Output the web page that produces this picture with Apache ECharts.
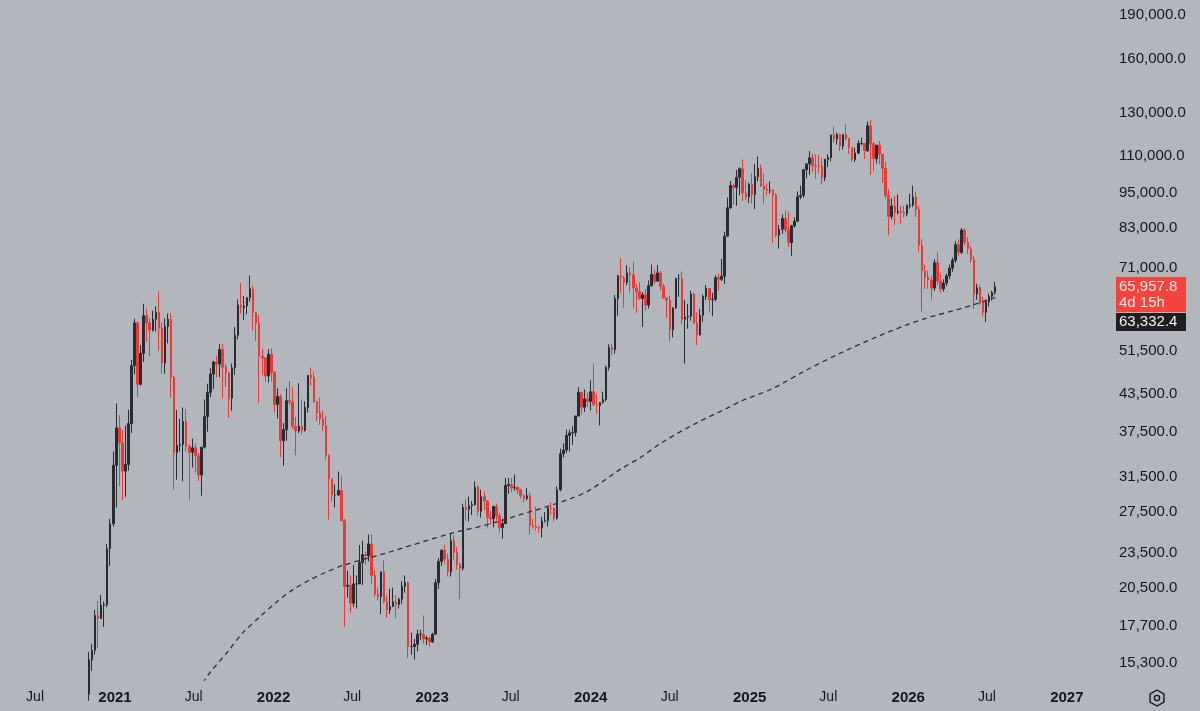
<!DOCTYPE html>
<html>
<head>
<meta charset="utf-8">
<script src="https://cdn.jsdelivr.net/npm/echarts@6/dist/echarts.min.js"></script>
<style>
  html, body { margin: 0; padding: 0; background: #b3b6bd; }
  #chart { width: 1200px; height: 711px; }
</style>
</head>
<body>
<div id="chart"></div>
<script>
// weekly candles, thousands of USD: [open, high, low, close], one row per week
const firstWeek = '2020-11-02'
const candles = [
  // 2020
  [13.55, 15.97, 13.2, 15.48], [15.48, 16.48, 14.83, 16.06], [16.06, 18.8, 15.8, 18.4], [18.4, 19.48, 16.2, 18.18],
  [18.18, 19.92, 18.15, 19.15], [19.15, 19.42, 17.6, 19.18], [19.18, 24.3, 19.0, 23.85], [23.85, 26.8, 22.3, 26.27],
  [26.27, 34.8, 26.0, 33.0],
  // 2021
  [33.0, 41.95, 28.0, 38.15], [38.15, 40.1, 30.4, 36.0], [36.0, 37.85, 28.8, 32.25], [32.25, 38.5, 29.2, 33.1],
  [33.1, 40.95, 32.3, 38.8], [38.8, 49.7, 37.4, 48.6], [48.6, 58.35, 47.0, 57.4], [57.4, 57.5, 43.0, 45.2],
  [45.2, 52.65, 45.0, 50.97], [50.97, 61.8, 49.3, 59.0], [59.0, 60.7, 53.3, 57.35], [57.35, 58.4, 50.4, 55.8],
  [55.8, 60.2, 55.5, 58.2], [58.2, 61.2, 55.5, 59.8], [59.8, 64.9, 51.5, 56.2], [56.2, 57.5, 47.0, 49.1],
  [49.1, 58.4, 47.1, 56.6], [56.6, 59.5, 53.0, 58.2], [58.2, 59.6, 42.9, 46.4], [46.4, 46.8, 30.0, 34.65],
  [34.65, 40.9, 31.2, 35.65], [35.65, 39.5, 34.8, 35.8], [35.8, 41.3, 31.0, 39.1], [39.1, 41.0, 34.8, 35.5],
  [35.5, 35.8, 28.8, 34.7], [34.7, 36.6, 32.7, 35.3], [35.3, 35.9, 32.1, 34.25], [34.25, 34.6, 31.0, 31.78],
  [31.78, 35.4, 29.3, 35.4], [35.4, 42.6, 35.2, 39.85], [39.85, 45.3, 37.6, 43.8], [43.8, 48.1, 43.0, 47.05],
  [47.05, 49.5, 44.4, 49.3], [49.3, 50.5, 46.4, 48.9], [48.9, 52.9, 46.5, 51.75], [51.75, 52.9, 42.8, 48.3],
  [48.3, 48.9, 44.7, 47.25], [47.25, 47.3, 39.6, 42.8], [42.8, 49.0, 40.8, 48.2], [48.2, 56.5, 46.9, 54.7],
  [54.7, 62.9, 53.8, 61.5], [61.5, 67.0, 59.5, 60.9], [60.9, 63.7, 58.0, 61.3], [61.3, 63.4, 59.4, 63.3],
  [63.3, 69.0, 62.3, 65.5], [65.5, 66.3, 55.7, 59.7], [59.7, 59.9, 53.5, 57.3], [57.3, 59.1, 42.0, 50.4],
  [50.4, 51.9, 46.8, 50.1], [50.1, 50.2, 45.6, 46.7], [46.7, 51.8, 45.5, 50.8], [50.8, 52.0, 45.7, 47.3],
  // 2022
  [47.3, 47.6, 40.6, 41.8], [41.8, 44.5, 39.6, 43.1], [43.1, 43.5, 34.0, 36.3], [36.3, 38.9, 32.9, 37.9],
  [37.9, 44.5, 36.3, 42.4], [42.4, 45.8, 41.7, 42.2], [42.2, 44.7, 38.0, 38.4], [38.4, 39.8, 34.3, 37.7],
  [37.7, 45.4, 37.4, 38.4], [38.4, 42.6, 37.2, 37.8], [37.8, 42.3, 37.6, 41.3], [41.3, 46.8, 40.5, 46.8],
  [46.8, 48.2, 44.9, 46.4], [46.4, 47.5, 42.1, 42.2], [42.2, 42.4, 39.2, 40.4], [40.4, 42.9, 38.6, 39.5],
  [39.5, 40.8, 37.7, 38.5], [38.5, 40.0, 33.7, 34.3], [34.3, 34.4, 26.7, 31.3], [31.3, 31.3, 28.7, 29.4],
  [29.4, 30.6, 28.0, 29.4], [29.4, 32.2, 29.3, 29.9], [29.9, 31.6, 26.6, 26.6], [26.6, 26.8, 17.6, 20.6],
  [20.6, 21.9, 19.7, 20.7], [20.7, 21.5, 18.6, 19.3], [19.3, 22.4, 19.0, 20.8], [20.8, 21.5, 18.9, 20.8],
  [20.8, 24.2, 20.8, 22.6], [22.6, 24.6, 20.7, 23.3], [23.3, 23.6, 22.4, 23.2], [23.2, 25.2, 22.7, 24.3],
  [24.3, 25.2, 20.8, 21.5], [21.5, 21.9, 19.8, 20.0], [20.0, 20.5, 19.5, 19.8], [19.8, 21.8, 18.5, 21.8],
  [21.8, 22.8, 19.3, 19.4], [19.4, 19.9, 18.2, 18.8], [18.8, 20.4, 18.5, 19.05], [19.05, 20.5, 19.0, 19.4],
  [19.4, 19.9, 18.2, 19.2], [19.2, 19.7, 18.9, 19.6], [19.6, 21.0, 19.25, 20.6], [20.6, 21.5, 20.1, 20.9],
  [20.9, 21.0, 15.6, 16.3], [16.3, 17.2, 15.8, 16.3], [16.3, 16.8, 15.5, 16.45], [16.45, 17.4, 16.0, 17.1],
  [17.1, 17.4, 16.7, 17.1], [17.1, 18.4, 16.5, 16.8], [16.8, 17.0, 16.4, 16.85], [16.85, 16.95, 16.3, 16.6],
  // 2023
  [16.6, 17.2, 16.55, 17.1], [17.1, 21.2, 17.1, 20.9], [20.9, 23.0, 20.4, 22.7], [22.7, 23.8, 22.3, 23.7],
  [23.7, 24.2, 22.5, 22.9], [22.9, 23.4, 21.4, 21.8], [21.8, 25.25, 21.4, 24.6], [24.6, 25.1, 22.8, 23.5],
  [23.5, 24.0, 21.95, 22.4], [22.4, 22.6, 19.6, 22.1], [22.1, 28.4, 21.9, 28.0], [28.0, 28.9, 26.6, 27.8],
  [27.8, 29.2, 26.5, 28.2], [28.2, 28.7, 27.2, 28.3], [28.3, 31.0, 28.2, 30.3], [30.3, 30.5, 27.1, 27.6],
  [27.6, 30.0, 26.9, 29.2], [29.2, 29.8, 27.7, 28.7], [28.7, 28.8, 25.8, 26.9], [26.9, 27.6, 26.2, 26.8],
  [26.8, 28.2, 25.9, 28.1], [28.1, 28.4, 26.6, 27.1], [27.1, 27.4, 25.4, 25.9], [25.9, 26.8, 24.8, 26.3],
  [26.3, 31.4, 26.3, 30.5], [30.5, 31.4, 29.5, 30.6], [30.6, 31.4, 29.7, 30.2], [30.2, 31.8, 29.9, 30.25],
  [30.25, 30.4, 29.5, 30.0], [30.0, 30.1, 29.0, 29.3], [29.3, 29.5, 28.6, 29.0], [29.0, 30.2, 28.8, 29.3],
  [29.3, 29.7, 25.2, 26.1], [26.1, 26.8, 25.8, 26.0], [26.0, 28.1, 25.6, 25.9], [25.9, 26.1, 25.4, 25.85],
  [25.85, 27.0, 24.9, 26.55], [26.55, 27.5, 26.4, 26.6], [26.6, 28.0, 26.0, 27.95], [27.95, 28.6, 27.2, 27.9],
  [27.9, 28.0, 26.5, 26.85], [26.85, 30.4, 26.7, 30.0], [30.0, 35.2, 29.8, 34.5], [34.5, 35.9, 34.0, 35.0],
  [35.0, 37.9, 34.6, 37.05], [37.05, 37.9, 34.8, 37.4], [37.4, 38.4, 35.7, 37.45], [37.45, 40.0, 36.9, 39.95],
  [39.95, 44.7, 39.9, 43.8], [43.8, 43.9, 40.2, 41.35], [41.35, 44.3, 40.6, 42.7], [42.7, 43.8, 41.4, 42.3],
  // 2024
  [42.3, 45.9, 40.8, 43.9], [43.9, 49.0, 41.5, 41.8], [41.8, 43.6, 40.3, 41.6], [41.6, 42.2, 38.5, 42.1],
  [42.1, 43.9, 41.9, 42.6], [42.6, 48.6, 42.3, 48.3], [48.3, 52.8, 47.7, 52.1], [52.1, 52.9, 50.6, 51.7],
  [51.7, 64.0, 50.9, 63.1], [63.1, 69.2, 59.0, 68.9], [68.9, 73.8, 64.5, 68.3], [68.3, 68.9, 60.8, 67.2],
  [67.2, 71.8, 66.4, 69.7], [69.7, 71.3, 64.5, 69.2], [69.2, 72.8, 60.7, 65.7], [65.7, 66.9, 59.6, 64.9],
  [64.9, 67.2, 62.8, 63.1], [63.1, 64.7, 56.5, 64.0], [64.0, 65.5, 60.2, 61.5], [61.5, 67.7, 60.7, 66.3],
  [66.3, 72.0, 66.1, 69.3], [69.3, 70.6, 66.7, 67.5], [67.5, 71.9, 67.5, 69.7], [69.7, 70.2, 65.1, 66.2],
  [66.2, 66.9, 63.0, 63.2], [63.2, 63.3, 58.4, 62.7], [62.7, 63.8, 53.5, 55.9], [55.9, 61.0, 54.2, 60.8],
  [60.8, 68.4, 60.6, 68.2], [68.2, 69.4, 63.5, 68.2], [68.2, 70.0, 57.1, 58.2], [58.2, 62.7, 49.0, 58.7],
  [58.7, 61.8, 56.1, 58.9], [58.9, 65.0, 57.9, 64.2], [64.2, 64.5, 57.2, 57.3], [57.3, 59.8, 52.6, 54.8],
  [54.8, 60.6, 54.6, 59.1], [59.1, 64.1, 57.6, 63.6], [63.6, 66.5, 62.7, 65.6], [65.6, 65.7, 59.8, 62.8],
  [62.8, 64.5, 58.9, 62.9], [62.9, 69.0, 62.4, 68.4], [68.4, 69.5, 65.1, 68.0], [68.0, 73.6, 67.5, 68.8],
  [68.8, 81.8, 66.8, 80.4], [80.4, 93.4, 80.3, 89.8], [89.8, 99.6, 89.4, 97.9], [97.9, 98.7, 90.8, 97.2],
  [97.2, 104.0, 90.5, 101.1], [101.1, 105.1, 94.3, 104.5], [104.5, 108.3, 92.2, 95.1], [95.1, 99.9, 92.5, 93.7],
  [93.7, 99.0, 91.5, 98.3],
  // 2025
  [98.3, 102.7, 91.2, 94.5], [94.5, 106.4, 89.3, 101.3], [101.3, 109.6, 99.5, 104.7], [104.7, 106.4, 97.5, 97.7],
  [97.7, 102.5, 91.2, 96.5], [96.5, 98.8, 94.1, 96.1], [96.1, 99.5, 94.9, 96.2], [96.2, 96.5, 78.2, 94.3],
  [94.3, 95.0, 80.0, 80.7], [80.7, 84.0, 76.6, 82.6], [82.6, 87.5, 81.2, 86.1], [86.1, 88.8, 81.6, 82.4],
  [82.4, 88.5, 77.1, 78.4], [78.4, 84.0, 74.5, 83.7], [83.7, 86.5, 83.1, 85.2], [85.2, 95.7, 85.1, 93.7],
  [93.7, 97.9, 92.8, 94.3], [94.3, 104.3, 93.4, 104.1], [104.1, 106.6, 100.7, 106.5], [106.5, 112.0, 102.1, 109.0],
  [109.0, 110.7, 103.1, 105.7], [105.7, 110.5, 100.4, 105.6], [105.6, 110.4, 102.7, 105.5], [105.5, 108.9, 98.2, 100.9],
  [100.9, 108.5, 99.6, 108.4], [108.4, 110.5, 105.2, 109.2], [109.2, 119.5, 107.5, 119.1], [119.1, 123.2, 115.7, 117.3],
  [117.3, 120.2, 114.7, 119.4], [119.4, 119.8, 112.0, 114.2], [114.2, 119.4, 112.6, 119.3], [119.3, 124.4, 116.8, 117.5],
  [117.5, 117.6, 110.6, 113.5], [113.5, 113.6, 107.3, 108.3], [108.3, 113.4, 107.3, 111.1], [111.1, 116.7, 110.6, 115.3],
  [115.3, 117.9, 114.6, 115.3], [115.3, 115.4, 108.6, 112.1], [112.1, 125.6, 111.6, 123.5], [123.5, 126.2, 102.0, 115.2],
  [115.2, 116.0, 103.5, 108.7], [108.7, 114.7, 106.7, 114.5], [114.5, 116.4, 106.3, 110.6], [110.6, 110.7, 98.9, 104.7],
  [104.7, 107.4, 93.0, 94.2], [94.2, 96.6, 80.6, 86.8], [86.8, 93.1, 85.8, 90.4], [90.4, 94.0, 83.9, 88.2],
  [88.2, 94.6, 87.5, 88.5], [88.5, 90.4, 84.4, 88.1], [88.1, 90.5, 86.5, 87.7], [87.7, 90.9, 86.8, 90.6],
  // 2026
  [90.6, 94.8, 89.5, 90.8], [90.8, 97.9, 90.0, 93.6], [93.6, 95.5, 86.5, 89.2], [89.2, 90.5, 75.5, 77.5],
  [77.5, 79.5, 60.0, 70.3], [70.3, 72.0, 65.5, 68.5], [68.5, 70.3, 65.5, 67.8], [67.8, 69.0, 62.8, 65.7],
  [65.7, 73.5, 65.0, 72.5], [72.5, 75.7, 66.5, 67.5], [67.5, 69.5, 64.5, 65.5], [65.5, 68.0, 64.8, 67.0],
  [67.0, 69.5, 66.2, 68.9], [68.9, 72.0, 68.0, 71.0], [71.0, 74.0, 70.0, 73.2], [73.2, 78.8, 72.5, 77.8],
  [77.8, 79.5, 74.5, 75.5], [75.5, 83.0, 75.0, 82.3], [82.3, 82.8, 77.5, 78.5], [78.5, 80.0, 75.0, 76.5],
  [76.5, 77.3, 72.5, 73.5], [73.5, 74.5, 60.5, 64.2], [64.2, 66.8, 62.8, 65.8], [65.8, 66.5, 61.5, 62.0],
  [62.0, 63.5, 58.8, 59.8], [59.8, 62.8, 57.6, 62.3], [62.3, 64.3, 61.2, 63.6], [63.6, 65.0, 62.6, 64.6],
  [64.6, 67.3, 64.0, 65.9578]
]

// 200 week moving average
const maDates = ['2021-07-22', '2021-08-07', '2021-09-15', '2021-10-22', '2021-11-30', '2022-01-08', '2022-02-14',
  '2022-03-25', '2022-05-03', '2022-06-13', '2022-09-18', '2023-02-17', '2023-05-06', '2023-07-21', '2023-10-05',
  '2023-12-22', '2024-03-07', '2024-04-23', '2024-06-15', '2024-09-01', '2024-11-16', '2024-12-09', '2025-02-24',
  '2025-05-12', '2025-07-28', '2025-10-13', '2025-12-28', '2026-02-13', '2026-04-30', '2026-05-30', '2026-07-20']
const maValues = [14150, 14710, 15900, 17190, 18290, 19390, 20320, 21120, 21790, 22390, 23460, 25360, 26160,
  27200, 28280, 29740, 32400, 33950, 36120, 38890, 41390, 42250, 44510, 47790, 50990, 54060, 56930, 58500,
  60600, 61530, 63332.4]

const xTickDates = ['2020-07-01', '2021-01-01', '2021-07-01', '2022-01-01', '2022-07-01', '2023-01-01', '2023-07-01',
  '2024-01-01', '2024-07-01', '2025-01-01', '2025-07-01', '2026-01-01', '2026-07-01', '2027-01-01']
const yTicks = [15300, 17700, 20500, 23500, 27500, 31500, 37500, 43500, 51500, 71000, 83000, 95000, 110000,
  130000, 160000, 190000]
const countdown = '4d 15h'

const DAY = 864e5
const FONT = '"Liberation Sans", Arial, sans-serif'
const INK = '#131722'
const UP = '#272b34'
const DOWN = '#e93a34'

const fmt = (v) => v.toLocaleString('en-US', { minimumFractionDigits: 1, maximumFractionDigits: 1 })

const start = Date.parse(firstWeek)
const candleData = candles.map((c, i) => [start + i * 7 * DAY, c[0] * 1000, c[3] * 1000, c[2] * 1000, c[1] * 1000])
const maData = maDates.map((d, i) => [Date.parse(d), maValues[i]])

// visible window of the date axis (timestamps on a value axis)
const jan2021 = Date.UTC(2021, 0, 1)
const xMin = jan2021 - 264.7 * DAY
const xMax = xMin + 2543.6 * DAY

const chart = echarts.init(document.getElementById('chart'))

chart.setOption({
  animation: false,
  backgroundColor: '#b3b6bd',
  grid: { left: 0, right: 95, top: 0, bottom: 31 },
  xAxis: {
    type: 'value',
    min: xMin,
    max: xMax,
    axisLine: { show: false },
    axisTick: { show: false },
    splitLine: { show: false },
    axisLabel: {
      customValues: xTickDates.map(d => Date.parse(d)),
      margin: 10,
      formatter: (val) => {
        const d = new Date(val)
        return d.getUTCMonth() === 0 ? '{y|' + d.getUTCFullYear() + '}' : '{m|Jul}'
      },
      rich: {
        y: { fontFamily: FONT, fontSize: 15, fontWeight: 'bold', color: INK },
        m: { fontFamily: FONT, fontSize: 14, color: INK }
      }
    }
  },
  yAxis: {
    type: 'log',
    position: 'right',
    min: 14314,
    max: 201410,
    axisLine: { show: false },
    axisTick: { show: false },
    splitLine: { show: false },
    axisLabel: {
      customValues: yTicks,
      margin: 14,
      fontFamily: FONT,
      fontSize: 15,
      color: INK,
      formatter: (v) => fmt(v)
    }
  },
  series: [
    {
      name: 'BTC',
      type: 'candlestick',
      data: candleData,
      encode: { x: 0, y: [1, 2, 3, 4] },
      barWidth: 2,
      itemStyle: {
        color: UP,
        color0: DOWN,
        borderColor: UP,
        borderColor0: DOWN,
        borderWidth: 1
      }
    },
    {
      name: 'MA200',
      type: 'line',
      data: maData,
      smooth: 0.3,
      showSymbol: false,
      lineStyle: { color: '#2b2f3a', width: 1.3, type: [5, 4] }
    }
  ]
})

// price tags on the right axis
const lastClose = candleData[candleData.length - 1][2]
const lastMa = maValues[maValues.length - 1]
const py = chart.convertToPixel({ yAxisIndex: 0 }, lastClose)
const tagX = 1116
const tagFont = '15px ' + FONT

const hex = []
for (let k = 0; k < 6; k++) {
  const a = (-90 + k * 60) * Math.PI / 180
  hex.push([1157 + 8 * Math.cos(a), 698 + 8 * Math.sin(a)])
}

chart.setOption({
  graphic: [
    { type: 'rect', shape: { x: tagX, y: py - 10, width: 70, height: 35 }, style: { fill: '#f4433b' } },
    { type: 'text', x: tagX + 3, y: py, style: { text: fmt(lastClose), fill: '#fde7e6', font: tagFont, verticalAlign: 'middle' } },
    { type: 'text', x: tagX + 3, y: py + 16, style: { text: countdown, fill: '#fde7e6', font: tagFont, verticalAlign: 'middle' } },
    { type: 'rect', shape: { x: tagX, y: py + 26, width: 70, height: 18 }, style: { fill: '#1f1f22' } },
    { type: 'text', x: tagX + 3, y: py + 35, style: { text: fmt(lastMa), fill: '#f2f2f2', font: tagFont, verticalAlign: 'middle' } },
    { type: 'polygon', shape: { points: hex, smooth: 0 }, style: { fill: 'none', stroke: INK, lineWidth: 1.4 } },
    { type: 'circle', shape: { cx: 1157, cy: 698, r: 2.6 }, style: { fill: 'none', stroke: INK, lineWidth: 1.4 } }
  ]
})

window.addEventListener('resize', () => chart.resize())
</script>
</body>
</html>
